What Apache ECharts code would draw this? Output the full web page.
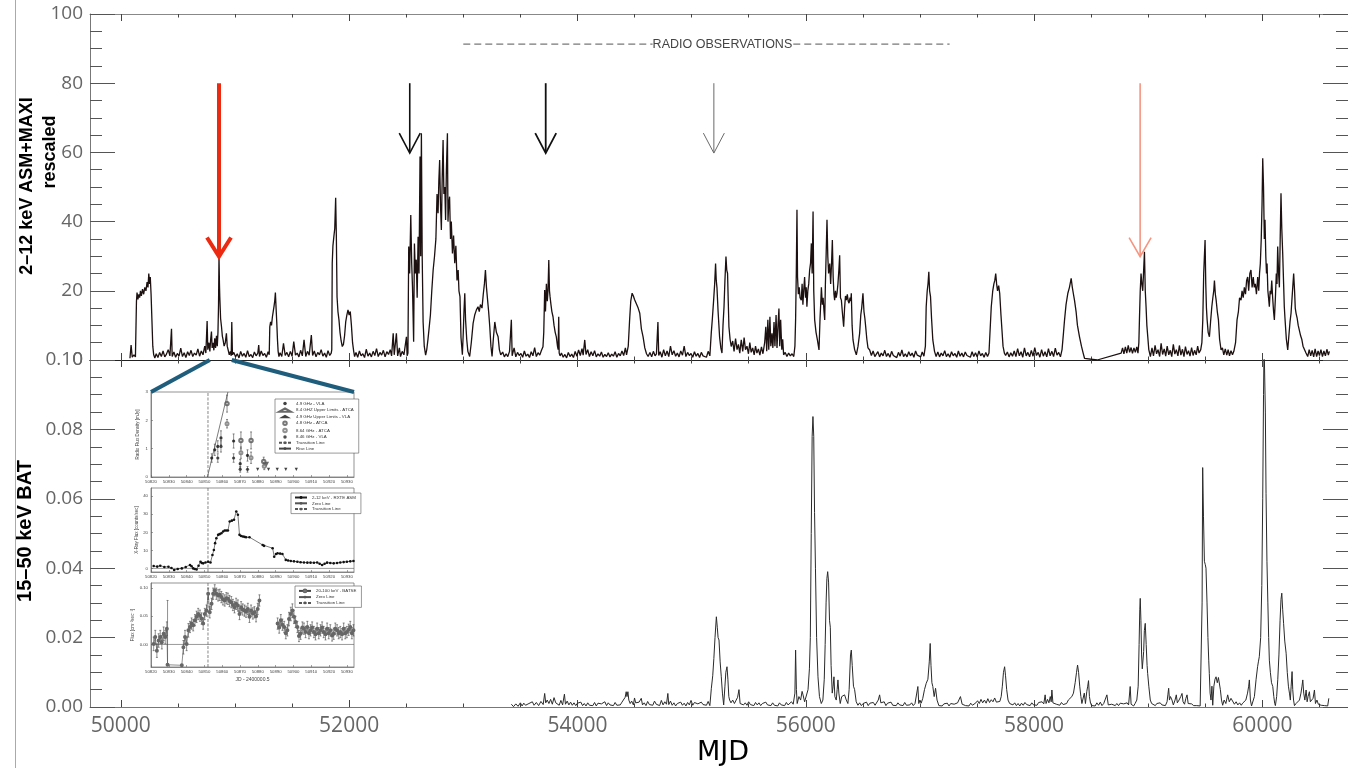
<!DOCTYPE html>
<html><head><meta charset="utf-8">
<script src="https://cdn.jsdelivr.net/npm/echarts@6/dist/echarts.min.js"></script>
<style>html,body{margin:0;padding:0;background:#fff}#c{width:1348px;height:768px}</style>
</head><body><div id="c"></div>
<script>
// ---------------- DATA ----------------
const xMajorTicks = [50000,52000,54000,56000,58000,60000];
const xMinorTicks = [50000,50500,51000,51500,52000,52500,53000,53500,54000,54500,55000,55500,56000,56500,57000,57500,58000,58500,59000,59500,60000,60500];

// 2-12 keV ASM+MAXI rescaled  [MJD, value]
const asmData = [
[50080,0.5],[50090,4.3],[50100,0.8],[50115,1.5],[50128,0.9],[50137,17],[50142,19.5],[50150,17.5],[50158,19],[50165,18],[50172,20],[50180,18.5],[50190,20.5],[50200,19],[50210,21],[50220,20],[50230,22.5],[50238,21],[50245,25],[50252,22],[50258,24],[50265,19],[50272,12],[50280,4],[50288,1.5],[50298,0.6],
[50310,1.8],[50325,0.7],[50340,2.2],[50355,1.0],[50370,2.6],[50385,0.9],[50400,1.7],[50415,3.0],[50430,1.2],[50444,9],[50450,1.0],[50465,2.3],[50480,0.8],[50495,1.9],[50510,1.1],[50525,3.4],[50540,1.0],[50555,2.1],[50570,0.7],[50585,2.4],[50600,1.3],[50615,2.8],[50630,1.0],[50645,2.0],[50660,1.4],[50675,3.2],[50690,1.1],[50705,2.6],[50720,1.5],[50735,4.0],[50745,2.0],[50756,11.3],[50762,3],[50772,5],[50780,2.5],[50787,6],[50794,8.2],[50800,3.5],[50808,5],[50815,2.8],[50823,6.3],[50830,3.5],[50838,7],[50845,4],[50851,8],[50856,16],[50860,29.9],[50864,22],[50867,18.3],[50874,12],[50882,9.6],[50889,7],[50896,5.8],[50905,4],[50915,5],[50925,7.7],[50932,4],[50940,2.9],[50950,1.5],[50960,2.5],[50967,1.2],[50972,11],[50978,1.5],
[50990,2.2],[51005,0.9],[51020,1.8],[51035,0.6],[51050,2.5],[51065,1.1],[51080,1.9],[51095,0.8],[51110,2.7],[51125,1.0],[51140,1.6],[51155,0.7],[51170,2.3],[51185,1.2],[51200,2.0],[51208,4.3],[51215,1.0],[51230,2.6],[51245,1.3],[51260,1.9],[51275,0.8],[51290,2.4],[51300,1.5],[51305,9.6],[51312,11],[51320,10],[51328,12.5],[51335,14],[51342,15.5],[51348,17],[51354,19.5],[51360,15],[51366,11],[51372,6],[51378,2.5],[51385,1.0],
[51395,2.1],[51410,1.0],[51425,4.8],[51440,1.3],[51455,2.2],[51470,0.9],[51485,2.5],[51500,1.1],[51515,5.3],[51530,1.4],[51545,2.0],[51560,0.9],[51575,2.8],[51590,1.2],[51605,5.8],[51620,1.0],[51635,2.5],[51650,1.4],[51669,7.2],[51680,1.3],[51695,2.6],[51710,0.9],[51725,2.2],[51740,1.5],[51755,3.0],[51770,1.1],[51785,2.0],[51800,0.8],[51815,2.7],[51830,1.3],[51843,2.0],[51848,3],[51852,28],[51858,33],[51866,35.6],[51874,38],[51882,46.9],[51888,36],[51894,18.3],[51902,14],[51911,11.6],[51920,8],[51930,5.5],[51940,3.9],[51950,4.5],[51960,7],[51970,11],[51980,13],[51990,14.5],[52000,13],[52010,14],[52020,10],[52030,5],[52040,2.5],[52048,1.0],
[52060,2.2],[52075,0.8],[52090,2.6],[52105,1.2],[52120,1.8],[52135,0.7],[52150,3.1],[52165,1.1],[52180,2.0],[52195,0.9],[52210,2.5],[52225,1.3],[52240,3.3],[52255,1.0],[52270,2.2],[52285,1.4],[52300,2.8],[52315,0.9],[52330,2.4],[52345,1.6],[52360,3.0],[52372,1.2],[52386,7.7],[52395,1.5],[52414,7.7],[52425,1.2],[52440,3.5],[52450,1.0],[52465,2.5],[52480,1.5],[52502,6.7],[52508,1.2],[52515,2.0],
[52518,1.5],[52522,32.8],[52530,25],[52540,41.9],[52548,28],[52555,21],[52565,5.3],[52572,33.7],[52580,25],[52588,29],[52596,18],[52604,35.6],[52612,25],[52621,58.8],[52627,30],[52633,65.5],[52640,30],[52648,11],[52658,4],[52670,1.4],[52680,3],[52690,5.8],[52700,9],[52712,13],[52724,20],[52736,26],[52748,30],[52760,35],[52770,48],[52779,42.4],[52786,52],[52793,57.8],[52800,45],[52808,37.6],[52815,52],[52823,63.6],[52830,48],[52838,50],[52845,40.5],[52852,55],[52861,65.5],[52866,40],[52872,45],[52880,47.2],[52888,35],[52895,40],[52905,30.8],[52915,36],[52925,28],[52935,33],[52945,23],[52955,26],[52962,20],[52971,18.3],[52980,6.5],[52992,1.5],[53000,8],[53006,14],[53013,19.3],[53020,11.6],[53030,6],[53040,2.5],[53056,1.0],[53070,5],[53086,10.6],[53100,13],[53115,14.5],[53129,15.4],[53140,14],[53150,16],[53164,15],[53175,19],[53185,22],[53194,26],[53203,21],[53211,21],[53222,14],[53232,9.6],[53242,4],[53252,1.0],[53263,6],[53276,11],[53290,8],[53305,6.7],[53316,3],[53328,1.5],
[53345,2.3],[53360,0.9],[53375,1.8],[53390,1.0],[53405,2.5],[53421,11.6],[53428,1.2],[53445,3.5],[53460,0.9],[53475,2.2],[53490,1.3],[53505,1.9],[53520,0.8],[53535,2.6],[53550,1.1],[53565,1.7],[53580,0.7],[53595,2.4],[53610,1.2],[53625,3.6],[53640,1.0],[53655,2.1],[53670,1.4],[53685,2.8],[53698,3.8],[53705,8],[53713,20.2],[53720,14],[53728,22],[53736,17],[53742,20],[53749,28.9],[53755,20],[53760,18.3],[53768,16],[53776,14],[53786,12.5],[53795,10],[53805,8],[53815,6.7],[53825,4],[53831,3],[53836,12.5],[53840,2],[53848,1.2],
[53860,2.0],[53875,0.8],[53890,1.6],[53905,0.6],[53920,2.2],[53935,1.0],[53950,1.7],[53965,0.7],[53980,2.5],[53995,1.1],[54010,2.9],[54025,1.3],[54040,3.3],[54050,1.4],[54064,5.8],[54075,1.6],[54090,3.0],[54105,1.0],[54120,2.4],[54135,1.2],[54150,2.7],[54165,0.9],[54180,1.8],[54195,1.1],[54210,2.3],[54225,0.8],[54240,1.6],[54255,1.0],[54270,2.1],[54285,0.9],[54300,1.7],[54315,1.1],[54330,2.4],[54345,0.8],[54360,1.9],[54375,1.2],[54390,2.6],[54405,1.3],[54420,3.5],[54430,1.5],[54445,4],[54457,11.6],[54467,17],[54479,19.3],[54490,18.5],[54500,17.5],[54517,17.3],[54532,15],[54546,13.5],[54560,9],[54575,6.7],[54590,3.5],[54605,1.8],[54619,1.0],
[54635,2.2],[54650,0.9],[54665,2.5],[54680,1.2],[54692,1.8],[54705,11],[54712,1.3],[54725,2.4],[54740,0.8],[54755,3.0],[54770,1.2],[54785,2.6],[54800,1.0],[54815,4.0],[54830,1.5],[54845,2.7],[54860,1.1],[54875,2.0],[54890,0.9],[54905,2.6],[54920,1.4],[54935,4.0],[54950,1.0],[54965,2.2],[54980,1.3],[54995,1.9],[55010,0.8],[55025,2.4],[55040,1.1],[55055,1.9],[55070,0.7],[55085,2.2],[55100,1.2],[55115,1.6],[55130,0.8],[55145,2.5],[55160,1.2],[55172,7.7],[55182,12],[55193,17.3],[55202,22],[55210,27.9],[55216,23],[55222,21],[55232,14],[55245,6.7],[55256,3.5],[55266,2.0],[55275,10],[55284,15.4],[55292,23],[55301,29.9],[55308,26],[55315,25],[55321,17],[55327,9.6],[55337,6],[55347,3.9],
[55360,5.5],[55372,2.5],[55385,6.2],[55398,3.0],[55410,4.5],[55422,2.0],[55435,5.8],[55448,2.5],[55460,6.5],[55472,3.0],[55485,4.0],[55498,1.8],[55510,5.0],[55522,2.2],[55535,3.5],[55548,1.5],[55560,4.0],[55572,2.0],[55585,3.2],[55598,1.4],[55612,3.8],[55625,1.8],[55640,5.0],[55650,9.6],[55658,2.5],[55668,11.6],[55676,3.0],[55686,12.5],[55694,4.0],[55704,7.7],[55712,3.5],[55722,11],[55730,4],[55740,13],[55748,3.5],[55757,10],[55765,14.9],[55772,4],[55780,11.6],[55790,3],[55798,6],[55806,1.5],[55820,2.2],[55835,1.0],[55850,2.0],[55865,1.2],[55880,1.8],[55895,1.0],[55905,4],[55911,11.6],[55917,25],[55923,43.4],[55928,24],[55935,19],[55943,21],[55950,18],[55961,17.3],[55968,22],[55975,16],[55982,20],[55990,24],[55998,18],[56004,21],[56010,15.4],[56018,20],[56026,22],[56034,26],[56042,28],[56049,33.7],[56056,25],[56064,42.9],[56070,20],[56078,11.6],[56090,8],[56102,5.8],[56116,2.9],[56125,12],[56132,17],[56137,21],[56145,16],[56152,18],[56160,14],[56166,11.6],[56172,22],[56179,31],[56186,40.5],[56193,30],[56200,25],[56210,27.9],[56218,22],[56226,28],[56233,34.7],[56240,24],[56247,19],[56253,17.3],[56260,20],[56267,18],[56274,19.3],[56282,22],[56290,26],[56297,30.3],[56304,18],[56312,17.3],[56320,14],[56332,9.6],[56340,15],[56348,18.5],[56356,17.3],[56364,19],[56372,17],[56379,16.4],[56388,18],[56394,17],[56399,19.3],[56406,10],[56414,5.8],[56428,3],[56443,1.5],[56458,4],[56472,7.7],[56482,13],[56490,15],[56501,19.3],[56510,14],[56518,12],[56525,9.6],[56535,6],[56545,3.5],[56560,2.9],[56575,1.3],[56590,2.6],[56605,1.0],[56618,1.5],
[56632,2.4],[56647,0.9],[56662,2.0],[56677,1.2],[56692,2.8],[56707,1.0],[56722,1.9],[56737,0.8],[56752,2.5],[56767,1.3],[56782,1.7],[56797,0.7],[56812,2.2],[56827,1.1],[56842,2.9],[56857,1.0],[56872,1.8],[56887,0.9],[56902,2.4],[56917,1.2],[56932,2.0],[56947,0.8],[56962,2.6],[56977,1.4],[56992,1.9],[57007,0.9],[57020,2.3],[57035,1.1],[57048,4],[57055,15.4],[57064,20],[57071,22],[57078,25.5],[57085,20],[57093,18.3],[57102,12],[57113,5.8],[57128,2.5],[57142,1.0],
[57157,2.3],[57172,0.9],[57187,2.0],[57202,1.2],[57217,2.7],[57232,1.0],[57247,1.8],[57262,0.8],[57277,2.4],[57292,1.2],[57307,1.9],[57322,0.8],[57337,2.6],[57352,1.1],[57367,2.0],[57382,0.9],[57397,2.3],[57412,1.3],[57427,1.7],[57442,0.8],[57457,2.4],[57472,1.0],[57487,2.1],[57502,0.9],[57517,2.6],[57532,1.2],[57547,1.9],[57562,0.8],[57577,2.2],[57592,1.0],[57605,2.0],[57615,2],[57625,15.4],[57638,20],[57648,22],[57656,23],[57664,25],[57672,22],[57680,20],[57690,21.5],[57699,19.3],[57710,13],[57720,8],[57728,4],[57740,2],[57751,1.3],
[57766,2.3],[57781,0.9],[57796,2.1],[57811,1.1],[57826,2.6],[57841,1.0],[57856,3.3],[57871,1.2],[57886,2.4],[57901,0.8],[57916,3.5],[57931,1.2],[57946,2.2],[57961,0.9],[57976,2.8],[57991,1.1],[58006,3.6],[58021,1.3],[58036,2.2],[58051,0.8],[58066,3.0],[58081,1.1],[58096,2.4],[58111,0.9],[58126,3.3],[58141,1.2],[58156,2.5],[58171,1.0],[58186,3.4],[58201,1.4],[58216,2.2],[58231,0.9],[58245,3],[58258,8],[58267,11.6],[58280,16],[58296,19.3],[58310,21],[58325,23.6],[58335,21],[58345,19],[58354,17.3],[58368,14],[58380,10],[58398,6.7],[58415,4],[58430,2],[58442,0.5],[58553,0],[58763,2],
[58775,3.5],[58787,1.8],[58800,3.8],[58812,2.0],[58825,4.2],[58837,2.2],[58850,3.6],[58862,1.9],[58875,3.5],[58887,2.2],[58900,3.8],[58910,2],[58918,5],[58923,11.6],[58930,20],[58937,25],[58944,22],[58952,20],[58960,26],[58967,31.3],[58974,20],[58981,15.4],[58988,10],[58996,6.7],[59005,3],[59019,1.0],
[59033,3.5],[59046,1.2],[59060,4.2],[59073,1.8],[59086,3.0],[59100,1.0],[59113,4.8],[59126,1.6],[59140,3.2],[59153,1.1],[59166,4.0],[59180,1.5],[59193,2.8],[59206,1.0],[59220,4.5],[59233,1.7],[59246,3.0],[59260,1.2],[59273,4.2],[59286,1.4],[59300,3.1],[59313,1.0],[59326,3.9],[59340,1.6],[59353,2.7],[59366,1.1],[59380,3.6],[59393,1.3],[59406,2.8],[59420,1.5],[59433,4.0],[59445,2.0],[59460,3],[59470,5],[59478,11.6],[59486,25],[59492,30],[59498,34.7],[59504,22],[59510,15],[59516,11.6],[59525,8],[59536,6.7],[59546,11],[59557,15.4],[59566,18],[59574,20],[59580,23],[59588,19],[59595,17.3],[59605,14],[59615,11.6],[59625,6],[59638,2.9],[59650,3.5],[59662,1.5],[59675,3.2],[59688,1.4],[59700,3.0],[59712,1.2],[59725,2.7],[59738,1.5],[59750,2.5],
[59765,5],[59778,11.6],[59790,14],[59800,18],[59813,17.3],[59822,20],[59832,18],[59842,21],[59852,19],[59862,23],[59871,24],[59880,20],[59890,25],[59900,26],[59910,21],[59920,24],[59929,21],[59938,22],[59948,19],[59959,24],[59968,20],[59975,25],[59982,27.9],[59990,35],[59997,45],[60003,58.3],[60010,50],[60017,35],[60023,40.5],[60030,30],[60036,25],[60041,27.9],[60048,20],[60054,18],[60061,15.4],[60068,20],[60075,19],[60082,23],[60090,18],[60098,14],[60105,11.6],[60114,18],[60122,25],[60128,22],[60134,32.8],[60142,25],[60149,21],[60156,35],[60163,48.2],[60170,38],[60178,30.8],[60186,22],[60192,15.4],[60198,12],[60210,6],[60222,2.9],[60232,7],[60242,11],[60251,13.5],[60258,17],[60266,21],[60274,25],[60282,20],[60288,15],[60295,13.5],[60305,12],[60314,10],[60324,9.6],[60335,7],[60345,6],[60356,4],[60368,3.9],[60382,2.0],[60397,1.0],[60410,3.0],[60423,1.2],[60436,2.8],[60449,0.9],[60462,3.2],[60475,1.0],[60488,2.6],[60500,1.3],[60513,3.0],[60526,1.0],[60539,2.6],[60552,1.2],[60565,3.1],[60578,1.4],[60587,2.5]
];

// 15-50 keV BAT  [MJD, value]
const batData = [
[53421,0.0008],[53440,0.0001],[53460,0.0009],[53480,0.0002],[53500,0.0012],[53515,0.0003],[53530,0.0011],[53545,0.0005],[53560,0.0004],[53575,0.0010],[53590,0.0006],[53605,0.0015],[53620,0.0005],[53640,0.0013],[53660,0.0004],[53680,0.0016],[53700,0.0007],[53713,0.0039],[53722,0.0012],[53735,0.0020],[53750,0.0010],[53765,0.0022],[53780,0.0008],[53795,0.0027],[53810,0.0012],[53825,0.0009],[53840,0.0005],[53855,0.0019],[53870,0.0006],[53886,0.0037],[53895,0.0008],[53910,0.0017],[53925,0.0006],[53940,0.0014],[53955,0.0005],[53970,0.0012],[53985,0.0004],[54000,0.0011],[54015,0.0006],[54030,0.0014],[54045,0.0004],[54060,0.0010],[54075,0.0003],[54090,0.0012],[54105,0.0005],[54120,0.0009],[54135,0.0004],[54150,0.0013],[54165,0.0003],[54180,0.0011],[54195,0.0006],[54210,0.0009],[54225,0.0005],[54240,0.0015],[54255,0.0004],[54270,0.0012],[54285,0.0006],[54300,0.0010],[54315,0.0004],[54330,0.0013],[54345,0.0005],[54360,0.0009],[54375,0.0006],[54390,0.0014],[54405,0.0010],[54418,0.0028],[54427,0.0044],[54434,0.0030],[54442,0.0044],[54450,0.0020],[54462,0.0010],[54475,0.0017],[54490,0.0006],[54500,0.0026],[54510,0.0012],[54525,0.0008],[54540,0.0014],[54559,0.0025],[54570,0.0006],[54585,0.0012],[54600,0.0004],[54615,0.0016],[54630,0.0007],[54645,0.0011],[54660,0.0005],[54675,0.0017],[54690,0.0008],[54705,0.0013],[54720,0.0004],[54735,0.0019],[54750,0.0006],[54765,0.0015],[54780,0.0008],[54792,0.0039],[54800,0.0007],[54815,0.0017],[54830,0.0005],[54845,0.0012],[54860,0.0003],[54875,0.0010],[54890,0.0006],[54905,0.0014],[54920,0.0005],[54935,0.0011],[54950,0.0003],[54965,0.0013],[54980,0.0006],[54995,0.0019],[55010,0.0005],[55025,0.0013],[55040,0.0008],[55055,0.0009],[55070,0.0004],[55085,0.0014],[55100,0.0007],[55115,0.0011],[55130,0.0005],[55145,0.0016],[55160,0.0004],
[55173,0.0054],[55185,0.0090],[55195,0.0140],[55205,0.0200],[55217,0.0260],[55225,0.0230],[55232,0.0200],[55240,0.0193],[55250,0.0130],[55260,0.0087],[55270,0.0040],[55281,0.0006],[55292,0.0060],[55300,0.0100],[55310,0.0116],[55318,0.0080],[55326,0.0030],[55333,0.0020],[55345,0.0012],[55360,0.0020],[55375,0.0010],[55390,0.0015],[55403,0.0028],[55415,0.0050],[55425,0.0010],[55440,0.0015],[55455,0.0006],[55470,0.0012],[55485,0.0005],[55500,0.0015],[55515,0.0007],[55530,0.0011],[55545,0.0004],[55560,0.0013],[55575,0.0006],[55590,0.0012],[55605,0.0004],[55620,0.0010],[55635,0.0005],[55650,0.0014],[55665,0.0006],[55680,0.0011],[55695,0.0004],[55710,0.0012],[55725,0.0005],[55740,0.0009],[55755,0.0003],[55770,0.0012],[55785,0.0006],[55800,0.0010],[55815,0.0004],[55830,0.0013],[55845,0.0006],[55860,0.0010],[55875,0.0015],[55890,0.0008],
[55905,0.0040],[55911,0.0164],[55918,0.0050],[55925,0.0010],[55940,0.0030],[55955,0.0020],[55968,0.0045],[55976,0.0035],[55990,0.0015],[56005,0.0020],[56020,0.0050],[56032,0.0110],[56040,0.0200],[56048,0.0500],[56056,0.0780],[56063,0.0837],[56070,0.0780],[56077,0.0560],[56085,0.0400],[56095,0.0200],[56107,0.0087],[56120,0.0030],[56136,0.0010],[56150,0.0020],[56162,0.0080],[56170,0.0180],[56178,0.0300],[56185,0.0370],[56192,0.0390],[56200,0.0360],[56208,0.0250],[56215,0.0230],[56222,0.0120],[56232,0.0040],[56240,0.0060],[56247,0.0087],[56255,0.0030],[56267,0.0020],[56275,0.0050],[56282,0.0078],[56290,0.0040],[56302,0.0010],[56315,0.0030],[56328,0.0025],[56340,0.0035],[56355,0.0020],[56369,0.0010],[56380,0.0050],[56392,0.0150],[56399,0.0164],[56407,0.0120],[56418,0.0060],[56428,0.0050],[56442,0.0015],[56457,0.0005],[56472,0.0012],[56487,0.0004],[56502,0.0010],[56517,0.0006],[56532,0.0014],[56547,0.0004],[56562,0.0011],[56577,0.0007],[56592,0.0013],[56607,0.0005],[56622,0.0010],[56635,0.0020],[56647,0.0035],[56658,0.0012],[56672,0.0008],[56687,0.0015],[56702,0.0004],[56717,0.0011],[56732,0.0006],[56747,0.0014],[56762,0.0005],[56777,0.0010],[56792,0.0004],[56807,0.0012],[56822,0.0006],[56837,0.0009],[56852,0.0004],[56867,0.0013],[56882,0.0005],[56897,0.0010],[56912,0.0006],[56927,0.0012],[56942,0.0004],[56957,0.0010],[56970,0.0005],
[56982,0.0059],[56990,0.0010],[57000,0.0020],[57011,0.0011],[57025,0.0025],[57040,0.0050],[57055,0.0068],[57070,0.0080],[57082,0.0130],[57090,0.0183],[57097,0.0120],[57105,0.0070],[57113,0.0059],[57125,0.0030],[57137,0.0054],[57150,0.0020],[57166,0.0004],[57180,0.0008],[57195,0.0003],[57210,0.0009],[57225,0.0004],[57240,0.0011],[57255,0.0003],[57270,0.0010],[57285,0.0005],[57300,0.0008],[57315,0.0003],[57330,0.0012],[57345,0.0010],[57355,0.0030],[57362,0.0035],[57370,0.0008],[57385,0.0010],[57400,0.0004],[57415,0.0009],[57430,0.0003],[57445,0.0011],[57460,0.0005],[57475,0.0008],[57490,0.0012],[57505,0.0018],[57520,0.0010],[57535,0.0022],[57550,0.0012],[57565,0.0020],[57580,0.0011],[57595,0.0024],[57610,0.0013],[57625,0.0021],[57640,0.0015],[57655,0.0026],[57670,0.0014],[57685,0.0019],[57700,0.0016],[57712,0.0030],[57722,0.0060],[57732,0.0100],[57742,0.0116],[57750,0.0090],[57760,0.0050],[57772,0.0020],[57786,0.0010],[57800,0.0014],[57815,0.0006],[57830,0.0012],[57845,0.0004],[57860,0.0010],[57875,0.0003],[57890,0.0011],[57905,0.0005],[57920,0.0013],[57935,0.0007],[57950,0.0009],[57965,0.0004],[57980,0.0012],[57995,0.0006],[58010,0.0010],
[58025,0.0005],[58040,0.0013],[58055,0.0008],[58070,0.0015],[58085,0.0009],[58097,0.0035],[58105,0.0010],[58118,0.0022],[58130,0.0012],[58142,0.0030],[58150,0.0015],[58156,0.0049],[58165,0.0012],[58180,0.0015],[58195,0.0008],[58210,0.0011],[58225,0.0005],[58240,0.0013],[58255,0.0007],[58270,0.0012],[58285,0.0010],[58300,0.0020],[58315,0.0025],[58331,0.0030],[58345,0.0040],[58360,0.0070],[58372,0.0100],[58381,0.0121],[58390,0.0100],[58400,0.0060],[58410,0.0030],[58419,0.0010],[58430,0.0015],[58440,0.0040],[58450,0.0010],[58462,0.0045],[58470,0.0060],[58477,0.0076],[58485,0.0030],[58495,0.0010],[58506,0.0004],[58520,0.0006],[58535,0.0003],[58550,0.0012],[58565,0.0005],[58580,0.0014],[58595,0.0004],[58610,0.0010],[58625,0.0005],[58638,0.0035],[58650,0.0006],[58665,0.0002],[58680,0.0008],[58695,0.0003],[58711,0.0004],
[58725,0.0010],[58740,0.0004],[58755,0.0011],[58770,0.0006],[58785,0.0009],[58800,0.0004],[58815,0.0012],[58828,0.0006],[58842,0.0059],[58850,0.0008],[58860,0.0004],[58872,0.0003],[58885,0.0010],[58900,0.0020],[58912,0.0060],[58920,0.0180],[58926,0.0280],[58930,0.0313],[58936,0.0250],[58942,0.0150],[58948,0.0110],[58954,0.0107],[58960,0.0160],[58966,0.0220],[58974,0.0241],[58982,0.0180],[58990,0.0120],[58995,0.0097],[59005,0.0060],[59018,0.0020],[59030,0.0010],[59045,0.0006],[59062,0.0004],[59075,0.0010],[59090,0.0005],[59105,0.0012],[59120,0.0006],[59135,0.0008],[59150,0.0004],[59165,0.0015],[59172,0.0035],[59179,0.0054],[59186,0.0020],[59195,0.0030],[59208,0.0020],[59220,0.0006],[59235,0.0020],[59246,0.0035],[59255,0.0012],[59270,0.0020],[59285,0.0030],[59296,0.0039],[59305,0.0015],[59318,0.0008],[59330,0.0025],[59340,0.0035],[59350,0.0010],[59365,0.0005],[59380,0.0009],[59398,0.0004],
[59410,0.0006],[59425,0.0004],[59440,0.0008],[59455,0.0003],[59466,0.0006],[59472,0.0300],[59477,0.0690],[59484,0.0550],[59492,0.0420],[59500,0.0410],[59506,0.0400],[59515,0.0300],[59523,0.0200],[59530,0.0135],[59535,0.0097],[59542,0.0040],[59550,0.0020],[59558,0.0060],[59565,0.0005],[59575,0.0060],[59585,0.0080],[59594,0.0087],[59605,0.0070],[59615,0.0085],[59623,0.0087],[59632,0.0050],[59642,0.0020],[59652,0.0005],[59665,0.0020],[59680,0.0010],[59696,0.0035],[59710,0.0015],[59725,0.0025],[59740,0.0020],[59755,0.0008],[59770,0.0015],[59785,0.0006],[59800,0.0012],[59815,0.0005],[59827,0.0011],[59840,0.0010],[59855,0.0020],[59870,0.0040],[59880,0.0060],[59886,0.0078],[59895,0.0020],[59905,0.0003],[59915,0.0004],[59930,0.0030],[59945,0.0080],[59958,0.0116],[59965,0.0130],[59973,0.0145],[59985,0.0200],[59995,0.0350],[60003,0.0600],[60010,0.0900],[60015,0.1050],[60020,0.1050],[60026,0.0850],[60032,0.0616],[60040,0.0420],[60048,0.0300],[60055,0.0200],[60061,0.0135],[60070,0.0100],[60080,0.0070],[60091,0.0059],[60100,0.0030],[60108,0.0010],[60114,0.0004],[60125,0.0030],[60135,0.0080],[60145,0.0150],[60155,0.0250],[60163,0.0310],[60170,0.0328],[60178,0.0280],[60186,0.0240],[60196,0.0190],[60208,0.0155],[60218,0.0100],[60228,0.0060],[60237,0.0040],[60245,0.0020],[60252,0.0060],[60260,0.0102],[60266,0.0050],[60273,0.0020],[60281,0.0004],[60295,0.0010],[60310,0.0005],[60325,0.0020],[60338,0.0040],[60347,0.0060],[60354,0.0078],[60362,0.0040],[60372,0.0020],[60383,0.0049],[60392,0.0015],[60400,0.0030],[60412,0.0044],[60420,0.0015],[60432,0.0010],[60444,0.0025],[60456,0.0049],[60465,0.0010],[60478,0.0020],[60490,0.0008],[60500,0.0011],[60515,0.0005],[60530,0.0010],[60545,0.0004],[60560,0.0009],[60572,0.0003],[60582,0.0025]
];

// Arrows (MJD, tip value, tail value)
const arrowMJD  = [50860, 52531, 53722, 55195, 58929];
const arrowTip  = [29.9, 59.8, 59.8, 59.8, 29.9];
const arrowTail = [80, 80, 80, 80, 80];

// Radio observations bar: [start MJD, end MJD, label MJD, level]
const radioObs = [[53000, 57260, 55270, 91.3]];
const radioObsLabel = 'RADIO OBSERVATIONS';

// Zoom window in main plot that the inset magnifies
const zoomWindow = [50779, 50972];

// ---- inset (1997 outburst) ----
const insetXMin = 50820, insetXMax = 50934;
const radioYMin = 0, radioYMax = 3;
const xrayYMin = -2, xrayYMax = 44.6;
const batseYMin = -0.04, batseYMax = 0.109;
const transitionMJD = 50852;
const riseLine = [[50851.7,0],[50863.2,3]];

const radio49Vla    = [[50854.1,0.67],[50855.8,0.96],[50857.5,1.08],[50859.3,1.38],[50866.4,1.27],[50870.1,0.47],[50874.2,0.76]];
const radio49VlaErr = [0.15,0.2,0.2,0.25,0.25,0.15,0.2];
const radio846Vla    = [[50857.5,0.67],[50859.3,1.08],[50866.4,0.67],[50870.1,0.27],[50874.2,0.27]];
const radio846VlaErr = [0.15,0.2,0.15,0.1,0.1];
const radio48Atca    = [[50862.7,2.59],[50870.5,1.29],[50876.2,1.29],[50883.3,0.55]];
const radio48AtcaErr = [0.3,0.3,0.3,0.15];
const radio864Atca    = [[50862.7,1.88],[50870.5,0.86],[50876.2,0.68],[50883.6,0.38]];
const radio864AtcaErr = [0.15,0.2,0.2,0.12];
const radioUlVla  = [[50879.9,0.27],[50886.0,0.27],[50890.9,0.27],[50895.7,0.27],[50901.6,0.27]];
const radioUlAtca = [[50884.5,0.45]];

const xrayAsm = [[50821.5,1.3],[50823.5,1.0],[50825.2,1.5],[50827.5,0.8],[50829.8,0.9],[50831.5,0.2],[50833,-0.9],[50835,-0.3],[50837.3,0],[50839.5,0.8],[50841.9,1.9],[50842.8,1.2],[50843.7,0],[50844.6,-0.3],[50845.6,-0.6],[50846.7,1.5],[50847.8,3.7],[50848.5,3.0],[50849.3,2.8],[50850.6,3.3],[50852.1,3.7],[50853.4,3.3],[50854.5,7.4],[50855.3,10.2],[50856,14],[50856.7,16.7],[50857.7,18.6],[50858.5,19],[50859.5,19.5],[50860.5,20.5],[50861.4,21],[50862.3,21],[50863.2,21],[50864.2,26],[50865.4,26.5],[50866.6,27],[50867.9,31.6],[50868.8,29.8],[50869.7,18.6],[50870.6,18],[50871.6,17.7],[50872.5,17.5],[50873.4,17.3],[50875.3,17.3],[50882.7,13],[50883.5,12.5],[50888.3,11.2],[50889.2,6.5],[50890.2,8],[50891.1,8.4],[50892.5,8.2],[50893.8,8],[50895.7,4.7],[50897,4.4],[50898.5,4.1],[50900.3,3.9],[50902.2,3.7],[50904,3.4],[50905.9,3.3],[50907.8,3.2],[50909.6,3.2],[50911.5,3.1],[50913.3,3.3],[50914.7,2.6],[50916.1,1.9],[50917.5,2.6],[50918.9,3.2],[50920.7,3.0],[50922.6,2.8],[50924.5,3.0],[50926.3,3.3],[50928.2,3.5],[50930,3.7],[50931.9,3.9],[50933.7,4.1]];

// BATSE 20-100 keV: [MJD, flux, error]
const batse = [[50821.5,0.001,0.012],[50822.4,0.013,0.012],[50823.3,-0.011,0.012],[50824.3,0.007,0.012],[50825.2,0.013,0.012],[50826.1,0.004,0.012],[50827.1,0.019,0.012],[50828,0.013,0.012],[50828.9,0.028,0.012],[50829.3,-0.036,0],[50837.3,-0.037,0],[50838.2,-0.005,0.012],[50839.1,0.013,0.012],[50840,0.001,0.012],[50841,0.025,0.012],[50841.9,0.031,0.01],[50842.8,0.037,0.01],[50843.7,0.034,0.01],[50844.7,0.043,0.01],[50845.6,0.049,0.01],[50846.5,0.054,0.01],[50847.5,0.051,0.01],[50848.4,0.046,0.01],[50849.3,0.037,0.01],[50850.2,0.054,0.01],[50851.2,0.06,0.01],[50852.1,0.09,0.01],[50853,0.057,0.01],[50854,0.072,0.01],[50854.9,0.09,0.01],[50855.8,0.096,0.01],[50856.7,0.09,0.01],[50857.7,0.087,0.01],[50858.6,0.088,0.01],[50859.5,0.084,0.01],[50860.4,0.08,0.01],[50861.4,0.078,0.01],[50862.3,0.082,0.01],[50863.2,0.081,0.01],[50864.1,0.077,0.01],[50865.1,0.075,0.01],[50866,0.07,0.01],[50866.9,0.066,0.01],[50867.8,0.072,0.01],[50868.8,0.069,0.01],[50869.7,0.054,0.01],[50870.6,0.066,0.01],[50871.5,0.062,0.01],[50872.5,0.06,0.01],[50873.4,0.058,0.01],[50874.4,0.063,0.01],[50875.3,0.049,0.01],[50876.2,0.06,0.01],[50877.2,0.055,0.01],[50878.1,0.057,0.01],[50879,0.05,0.01],[50879.9,0.063,0.01],[50880.9,0.078,0.01],[50886,null,0],[50891.1,0.037,0.01],[50892,0.03,0.01],[50892.9,0.043,0.01],[50893.8,0.035,0.01],[50894.8,0.031,0.01],[50895.7,0.02,0.01],[50896.6,0.025,0.01],[50897.5,0.045,0.012],[50898.5,0.054,0.012],[50899.4,0.06,0.012],[50900.3,0.049,0.012],[50901.2,0.04,0.01],[50902.2,0.031,0.01],[50903.1,0.015,0.01],[50904,0.019,0.01],[50905,0.03,0.01],[50905.9,0.028,0.01],[50906.8,0.022,0.01],[50907.8,0.031,0.01],[50908.7,0.02,0.01],[50909.6,0.025,0.01],[50910.5,0.03,0.01],[50911.5,0.022,0.01],[50912.4,0.018,0.01],[50913.3,0.028,0.01],[50914.2,0.02,0.01],[50915.2,0.025,0.01],[50916.1,0.03,0.01],[50917,0.022,0.01],[50918,0.018,0.01],[50918.9,0.028,0.01],[50919.8,0.02,0.01],[50920.7,0.025,0.01],[50921.7,0.016,0.01],[50922.6,0.019,0.01],[50923.5,0.028,0.01],[50924.5,0.025,0.01],[50925.4,0.02,0.01],[50926.3,0.022,0.01],[50927.3,0.018,0.01],[50928.2,0.028,0.01],[50929.1,0.02,0.01],[50930,0.022,0.01],[50931,0.026,0.01],[50931.9,0.031,0.01],[50932.8,0.02,0.01],[50933.7,0.025,0.01]];
const batseBigBar = [[50829.3,-0.036,0.078]];

// ---------------- STYLE / LAYOUT ----------------
const arrowColors = ['#ec2a12','#111111','#111111','#6a6a6a','#f59580'];
const arrowWidths = [4, 1.6, 1.8, 1.0, 1.6];
const arrowHeadW  = [12, 10.5, 10.5, 10.5, 11];
const arrowHeadH  = [19, 20, 20, 20, 19];

const xMin = 49730, xMax = 60750;
const FONT = '"Open Sans", "Liberation Sans", sans-serif';
const SMALL = '"Liberation Sans", Arial, sans-serif';
const plain = v => String(v);

function xAx(gridIndex, position, ticks, len, lineColor, showLabel, lineShow) {
  return {type:'value', gridIndex, position, min:xMin, max:xMax,
    axisLine:{show:lineShow!==false, onZero:false, lineStyle:{color:lineColor, width:1}},
    axisTick:{show:true, inside:true, length:len, customValues:ticks, lineStyle:{color:'#444', width:1}},
    axisLabel:{show:!!showLabel, customValues:ticks, fontSize:21, color:'#666', fontFamily:FONT, margin:9, formatter:plain},
    splitLine:{show:false}};
}
function yAx(gridIndex, position, min, max, interval, showLabel, fmt) {
  return {type:'value', gridIndex, position, min, max, interval,
    axisLine:{show:true, onZero:false, lineStyle:{color:'#777', width:1}},
    axisTick:{show:true, inside:true, length:25, lineStyle:{color:'#555', width:1}},
    minorTick:{show:true, splitNumber:4, length:12, lineStyle:{color:'#555', width:1}},
    axisLabel:{show:showLabel, fontSize:19, color:'#666', fontFamily:FONT, margin:7, formatter:fmt || plain},
    splitLine:{show:false}, minorSplitLine:{show:false}};
}
function insetX(gridIndex, name) {
  return {type:'value', gridIndex, min:insetXMin, max:insetXMax, interval:10,
    name: name || '', nameLocation:'middle', nameGap:10,
    nameTextStyle:{fontSize:5, color:'#444', fontFamily:SMALL},
    axisLine:{onZero:false, lineStyle:{color:'#666', width:0.7}},
    axisTick:{inside:true, length:2, lineStyle:{color:'#666', width:0.6}},
    axisLabel:{fontSize:4.3, color:'#444', margin:3, fontFamily:SMALL, formatter:plain},
    splitLine:{show:false}};
}
function insetY(gridIndex, min, max, ticks, name, fmt) {
  return {type:'value', gridIndex, min, max,
    name, nameLocation:'middle', nameGap:11, nameRotate:90,
    nameTextStyle:{fontSize:4.5, color:'#444', fontFamily:SMALL},
    axisLine:{onZero:false, lineStyle:{color:'#666', width:0.7}},
    axisTick:{inside:true, length:2, customValues:ticks, lineStyle:{color:'#666', width:0.6}},
    axisLabel:{fontSize:4.3, color:'#444', margin:3, customValues:ticks, fontFamily:SMALL, formatter:fmt || plain},
    splitLine:{show:false}};
}
function errRender(params, api) {
  const x = api.value(0), lo = api.value(1), hi = api.value(2);
  const a = api.coord([x, lo]), b = api.coord([x, hi]);
  const st = {stroke:'#444', lineWidth:0.6};
  return {type:'group', children:[
    {type:'line', shape:{x1:a[0], y1:a[1], x2:b[0], y2:b[1]}, style:st},
    {type:'line', shape:{x1:a[0]-1, y1:a[1], x2:a[0]+1, y2:a[1]}, style:st},
    {type:'line', shape:{x1:b[0]-1, y1:b[1], x2:b[0]+1, y2:b[1]}, style:st}
  ]};
}
function errData(pts, errs) { return pts.map((p,i)=>[p[0], p[1]-errs[i], p[1]+errs[i]]); }

const legendBase = {orient:'vertical', selectedMode:false, itemWidth:12, itemHeight:3.5, itemGap:1.8,
  padding:[2.5,5,2.5,3], borderColor:'#555', borderWidth:0.6, backgroundColor:'#fff',
  textStyle:{fontSize:4.4, color:'#333', fontFamily:SMALL}};

const graphicsBase = [
  {id:'vline', type:'line', shape:{x1:15.5, y1:0, x2:15.5, y2:768}, style:{stroke:'#aaa', lineWidth:1}, z:0},
  {id:'yt1', type:'text', x:27, y:186, rotation:Math.PI/2,
    style:{text:'2–12 keV ASM+MAXI', font:'bold 18px "Liberation Sans", Arial', fill:'#000', align:'center', verticalAlign:'middle'}},
  {id:'yt2', type:'text', x:50, y:152, rotation:Math.PI/2,
    style:{text:'rescaled', font:'bold 18px "Liberation Sans", Arial', fill:'#000', align:'center', verticalAlign:'middle'}},
  {id:'yt3', type:'text', x:25, y:531, rotation:Math.PI/2,
    style:{text:'15–50 keV BAT', font:'bold 20px "Liberation Sans", Arial', fill:'#000', align:'center', verticalAlign:'middle'}},
  {id:'xt', type:'text', x:723, y:753,
    style:{text:'MJD', font:'27px "DejaVu Sans", Verdana, sans-serif', fill:'#000', align:'center', verticalAlign:'middle'}}
];

const DASH = [3,1.5];
const option = {
  animation:false,
  backgroundColor:'#fff',
  grid:[
    {left:90, top:14, width:1259, height:346},
    {left:90, top:360, width:1259, height:347},
    {left:151, top:392, width:203, height:85, show:true, borderColor:'#666', borderWidth:0.7, backgroundColor:'#fff'},
    {left:151, top:488, width:203, height:84, show:true, borderColor:'#666', borderWidth:0.7, backgroundColor:'#fff'},
    {left:151, top:583, width:203, height:84, show:true, borderColor:'#666', borderWidth:0.7, backgroundColor:'#fff'}
  ],
  xAxis:[
    xAx(0,'bottom',xMajorTicks,7,'#222',false),
    xAx(0,'bottom',xMinorTicks,3.5,'#222',false,false),
    xAx(0,'top',xMajorTicks,7,'#888',false),
    xAx(0,'top',xMinorTicks,3.5,'#888',false,false),
    xAx(1,'bottom',xMajorTicks,7,'#777',true),
    xAx(1,'bottom',xMinorTicks,3.5,'#777',false,false),
    xAx(1,'top',xMajorTicks,7,'#222',false),
    xAx(1,'top',xMinorTicks,3.5,'#222',false,false),
    insetX(2), insetX(3), insetX(4,'JD - 2400000.5')
  ],
  yAxis:[
    yAx(0,'left',0,100,20,true),
    yAx(0,'right',0,100,20,false),
    yAx(1,'left',0,0.1,0.02,true,v=>v.toFixed(2)),
    yAx(1,'right',0,0.1,0.02,false),
    insetY(2,radioYMin,radioYMax,[0,1,2,3],'Radio Flux Density [mJy]'),
    insetY(3,xrayYMin,xrayYMax,[0,10,20,30,40],'X-Ray Flux [counts/sec]'),
    insetY(4,batseYMin,batseYMax,[0,0.05,0.1],'Flux [cm⁻²sec⁻¹]',v=>v.toFixed(2))
  ],
  legend:[
    Object.assign({}, legendBase, {left:275, top:399,
      data:['4.9 GHz - VLA','8.4 GHZ Upper Limits - ATCA','4.9 GHz Upper Limits - VLA','4.8 GHz - ATCA','8.64 GHz - ATCA','8.46 GHz - VLA','Transition Line','Rise Line']}),
    Object.assign({}, legendBase, {left:291, top:493, data:['2-12 keV - RXTE ASM','Zero Line','Transition Line']}),
    Object.assign({}, legendBase, {left:295, top:586, data:['20-100 keV - BATSE','Zero Line','Transition Line']})
  ],
  graphic: graphicsBase,
  series:[
    {type:'line', name:'ASM+MAXI', xAxisIndex:0, yAxisIndex:0, data:asmData, symbol:'none',
      lineStyle:{color:'#1c1010', width:1.3}, itemStyle:{color:'#1c1010'}, silent:true, z:3},
    {type:'line', name:'BAT', xAxisIndex:4, yAxisIndex:2, data:batData, symbol:'none', clip:true,
      lineStyle:{color:'#2a2a2a', width:1}, itemStyle:{color:'#2a2a2a'}, silent:true, z:3},
    {type:'custom', name:'arrows', xAxisIndex:0, yAxisIndex:0, silent:true, z:6, clip:false,
      data: arrowMJD.map((m,i)=>[m, arrowTip[i], arrowTail[i], i]),
      renderItem:(params, api)=>{
        const i = api.value(3);
        const tip = api.coord([api.value(0), api.value(1)]);
        const tail = api.coord([api.value(0), api.value(2)]);
        const c = arrowColors[i], w = arrowWidths[i], hw = arrowHeadW[i], hh = arrowHeadH[i];
        return {type:'group', children:[
          {type:'line', shape:{x1:tail[0], y1:tail[1], x2:tip[0], y2:tip[1]-w/2}, style:{stroke:c, lineWidth:w}},
          {type:'polyline', shape:{points:[[tip[0]-hw, tip[1]-hh],[tip[0], tip[1]],[tip[0]+hw, tip[1]-hh]]},
            style:{stroke:c, lineWidth:w, fill:null, lineJoin:'miter'}}
        ]};
      }},
    {type:'custom', name:'radio obs', xAxisIndex:0, yAxisIndex:0, silent:true, z:6, clip:false,
      data: radioObs,
      renderItem:(params, api)=>{
        const a = api.coord([api.value(0), api.value(3)]);
        const b = api.coord([api.value(1), api.value(3)]);
        const m = api.coord([api.value(2), api.value(3)]);
        return {type:'group', children:[
          {type:'line', shape:{x1:a[0], y1:a[1], x2:b[0], y2:b[1]}, style:{stroke:'#555', lineWidth:1, lineDash:[7,4]}},
          {type:'text', x:m[0], y:m[1], style:{text:radioObsLabel, font:'12.5px "Liberation Sans", Arial', fill:'#444',
            align:'center', verticalAlign:'middle', backgroundColor:'#fff', padding:[1,0]}}
        ]};
      }},

    // ---- inset panel 1: radio ----
    {type:'custom', xAxisIndex:8, yAxisIndex:4, renderItem:errRender, silent:true, z:2,
      data: [].concat(errData(radio49Vla,radio49VlaErr), errData(radio846Vla,radio846VlaErr), errData(radio48Atca,radio48AtcaErr), errData(radio864Atca,radio864AtcaErr))},
    {type:'scatter', name:'4.9 GHz - VLA', xAxisIndex:8, yAxisIndex:4, data:radio49Vla, symbol:'circle', symbolSize:3.2, itemStyle:{color:'#111'}, z:4},
    {type:'scatter', name:'8.4 GHZ Upper Limits - ATCA', xAxisIndex:8, yAxisIndex:4, data:radioUlAtca, symbol:'emptyTriangle', symbolRotate:180, symbolSize:3.2, itemStyle:{color:'#444', borderWidth:0.6}, z:4},
    {type:'scatter', name:'4.9 GHz Upper Limits - VLA', xAxisIndex:8, yAxisIndex:4, data:radioUlVla, symbol:'triangle', symbolRotate:180, symbolSize:3.2, itemStyle:{color:'#111'}, z:4},
    {type:'scatter', name:'4.8 GHz - ATCA', xAxisIndex:8, yAxisIndex:4, data:radio48Atca, symbol:'emptyCircle', symbolSize:3.4, itemStyle:{color:'#555', borderWidth:0.6}, z:4},
    {type:'scatter', name:'8.64 GHz - ATCA', xAxisIndex:8, yAxisIndex:4, data:radio864Atca, symbol:'emptyCircle', symbolSize:3.0, itemStyle:{color:'#777', borderWidth:0.6}, z:4},
    {type:'scatter', name:'8.46 GHz - VLA', xAxisIndex:8, yAxisIndex:4, data:radio846Vla, symbol:'circle', symbolSize:3.2, itemStyle:{color:'#222'}, z:4},
    {type:'line', name:'Transition Line', xAxisIndex:8, yAxisIndex:4, data:[[transitionMJD,radioYMin],[transitionMJD,radioYMax]], symbol:'none',
      lineStyle:{color:'#555', width:0.7, type:DASH}, itemStyle:{color:'#555'}, silent:true},
    {type:'line', name:'Rise Line', xAxisIndex:8, yAxisIndex:4, data:riseLine, symbol:'none', clip:true,
      lineStyle:{color:'#444', width:0.7}, itemStyle:{color:'#444'}, silent:true},

    // ---- inset panel 2: X-ray ASM ----
    {type:'line', name:'Zero Line', xAxisIndex:9, yAxisIndex:5, data:[[insetXMin,0],[insetXMax,0]], symbol:'none',
      lineStyle:{color:'#555', width:0.6}, itemStyle:{color:'#555'}, silent:true},
    {type:'line', name:'Transition Line', xAxisIndex:9, yAxisIndex:5, data:[[transitionMJD,xrayYMin],[transitionMJD,xrayYMax]], symbol:'none',
      lineStyle:{color:'#555', width:0.7, type:DASH}, itemStyle:{color:'#555'}, silent:true},
    {type:'line', name:'2-12 keV - RXTE ASM', xAxisIndex:9, yAxisIndex:5, data:xrayAsm, symbol:'circle', symbolSize:2.6,
      lineStyle:{color:'#222', width:0.6}, itemStyle:{color:'#111'}, silent:true, z:4},

    // ---- inset panel 3: BATSE ----
    {type:'line', name:'Zero Line', xAxisIndex:10, yAxisIndex:6, data:[[insetXMin,0],[insetXMax,0]], symbol:'none',
      lineStyle:{color:'#555', width:0.6}, itemStyle:{color:'#555'}, silent:true},
    {type:'line', name:'Transition Line', xAxisIndex:10, yAxisIndex:6, data:[[transitionMJD,batseYMin],[transitionMJD,batseYMax]], symbol:'none',
      lineStyle:{color:'#555', width:0.7, type:DASH}, itemStyle:{color:'#555'}, silent:true},
    {type:'custom', xAxisIndex:10, yAxisIndex:6, renderItem:errRender, silent:true, z:2,
      data: batse.filter(p=>p[1]!==null && p[2]>0).map(p=>[p[0], p[1]-p[2], p[1]+p[2]]).concat(batseBigBar)},
    {type:'line', name:'20-100 keV - BATSE', xAxisIndex:10, yAxisIndex:6, data:batse.map(p=>[p[0],p[1]]), symbol:'emptyCircle', symbolSize:2.0,
      connectNulls:false, lineStyle:{color:'#444', width:0.6}, itemStyle:{color:'#666', borderWidth:0.4}, silent:true, z:4}
  ]
};

const chart = echarts.init(document.getElementById('c'));
chart.setOption(option);

// Blue connector lines from the zoomed window in the main plot to the inset corners
const pa = chart.convertToPixel({xAxisIndex:0, yAxisIndex:0}, [zoomWindow[0], 0]);
const pb = chart.convertToPixel({xAxisIndex:0, yAxisIndex:0}, [zoomWindow[1], 0]);
const pc = chart.convertToPixel({xAxisIndex:8, yAxisIndex:4}, [insetXMin, radioYMax]);
const pd = chart.convertToPixel({xAxisIndex:8, yAxisIndex:4}, [insetXMax, radioYMax]);
chart.setOption({graphic: graphicsBase.concat([
  {id:'bl1', type:'line', z:20, shape:{x1:pc[0], y1:pc[1], x2:pa[0], y2:pa[1]}, style:{stroke:'#1f5d7c', lineWidth:4}},
  {id:'bl2', type:'line', z:20, shape:{x1:pb[0], y1:pb[1], x2:pd[0], y2:pd[1]}, style:{stroke:'#1f5d7c', lineWidth:4}}
])});
</script>
</body></html>
